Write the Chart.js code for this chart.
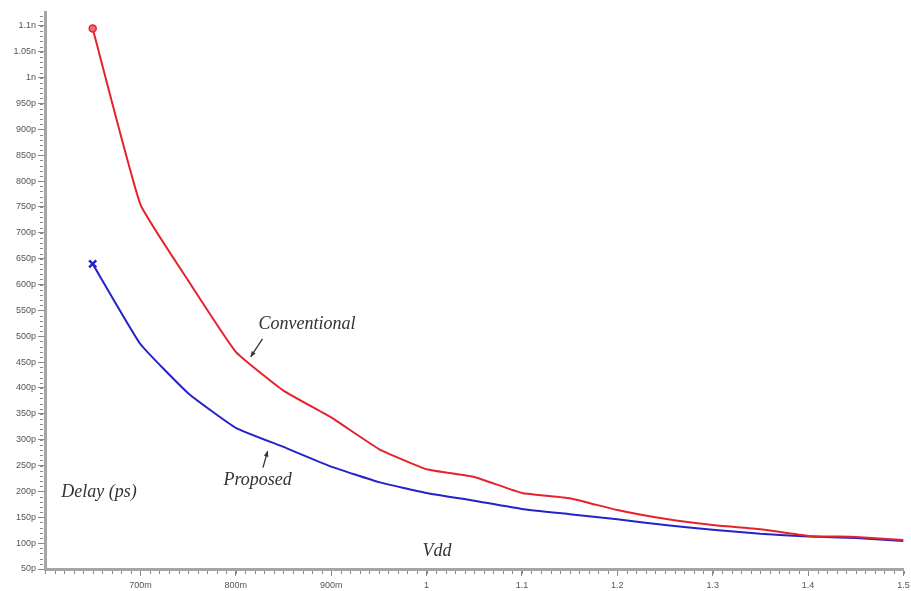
<!DOCTYPE html>
<html>
<head>
<meta charset="utf-8">
<script src="https://cdn.jsdelivr.net/npm/chart.js@4.4.1/dist/chart.umd.min.js"></script>
<style>
  html, body { margin: 0; padding: 0; background: #fff; }
  #wrap { width: 911px; height: 591px; }
</style>
</head>
<body>
<div id="wrap"><canvas id="delayChart" width="911" height="591"></canvas></div>
<script>
// --- datos (Vdd en V, retardo en ps) ---
const vdd = [0.65, 0.7, 0.75, 0.8, 0.85, 0.9, 0.95, 1.0, 1.05, 1.1, 1.15, 1.2, 1.25, 1.3, 1.35, 1.4, 1.45, 1.5];
const conventional = [1095, 755, 608, 470, 395, 343, 282, 243, 228, 197, 187, 164, 147, 135, 127, 114, 112, 106];
const proposed = [640, 485, 390, 323, 286, 248, 218, 197, 182, 166, 156, 146, 135, 126, 118, 113, 110, 104];

const xTicks = [0.7, 0.8, 0.9, 1.0, 1.1, 1.2, 1.3, 1.4, 1.5];
const xTickLabels = ['700m', '800m', '900m', '1', '1.1', '1.2', '1.3', '1.4', '1.5'];
const yTicks = [50, 100, 150, 200, 250, 300, 350, 400, 450, 500, 550, 600, 650, 700, 750, 800, 850, 900, 950, 1000, 1050, 1100];
const yTickLabels = ['50p', '100p', '150p', '200p', '250p', '300p', '350p', '400p', '450p', '500p', '550p', '600p', '650p', '700p', '750p', '800p', '850p', '900p', '950p', '1n', '1.05n', '1.1n'];

const RED = '#e6232b';
const BLUE = '#2323c8';

function toPoints(ys) {
    return vdd.map((x, i) => ({ x: x, y: ys[i] }));
}

// marcas menores de los ejes y textos anotados
const extras = {
    id: 'extras',
    afterDraw(chart) {
        const ctx = chart.ctx;
        const xs = chart.scales.x, ys = chart.scales.y;
        const area = chart.chartArea;
        ctx.save();
        ctx.strokeStyle = '#888';
        ctx.lineWidth = 1;
        // menores eje y cada 10p
        for (let v = 50; v <= 1120; v += 10) {
            const py = Math.round(ys.getPixelForValue(v)) + 0.5;
            ctx.beginPath();
            ctx.moveTo(area.left - 2, py);
            ctx.lineTo(area.left - 5, py);
            ctx.stroke();
        }
        // menores eje x cada 0.01
        for (let k = 60; k <= 150; k++) {
            const px = Math.round(xs.getPixelForValue(k / 100)) + 0.5;
            ctx.beginPath();
            ctx.moveTo(px, area.bottom + 2);
            ctx.lineTo(px, area.bottom + 5);
            ctx.stroke();
        }

        // textos
        ctx.fillStyle = '#333';
        ctx.textAlign = 'center';
        ctx.textBaseline = 'middle';
        ctx.font = 'italic 18px "Liberation Serif", serif';
        ctx.fillText('Conventional', xs.getPixelForValue(0.8747), ys.getPixelForValue(524));
        ctx.fillText('Proposed', xs.getPixelForValue(0.8229), ys.getPixelForValue(222));
        ctx.fillText('Delay (ps)', xs.getPixelForValue(0.6565), ys.getPixelForValue(199));
        ctx.fillText('Vdd', xs.getPixelForValue(1.011), ys.getPixelForValue(85));

        // flechas
        arrow(ctx, xs.getPixelForValue(0.828), ys.getPixelForValue(495), xs.getPixelForValue(0.8156), ys.getPixelForValue(460));
        arrow(ctx, xs.getPixelForValue(0.8285), ys.getPixelForValue(246), xs.getPixelForValue(0.8334), ys.getPixelForValue(278));
        ctx.restore();
    }
};

function arrow(ctx, x1, y1, x2, y2) {
    const a = Math.atan2(y2 - y1, x2 - x1);
    ctx.strokeStyle = '#333';
    ctx.fillStyle = '#333';
    ctx.lineWidth = 1.3;
    ctx.beginPath();
    ctx.moveTo(x1, y1);
    ctx.lineTo(x2, y2);
    ctx.stroke();
    ctx.beginPath();
    ctx.moveTo(x2, y2);
    ctx.lineTo(x2 - 6 * Math.cos(a - 0.4), y2 - 6 * Math.sin(a - 0.4));
    ctx.lineTo(x2 - 6 * Math.cos(a + 0.4), y2 - 6 * Math.sin(a + 0.4));
    ctx.closePath();
    ctx.fill();
}

const tickFont = { family: "'Liberation Sans', Arial, sans-serif", size: 9 };

new Chart(document.getElementById('delayChart').getContext('2d'), {
    type: 'line',
    data: {
        datasets: [
            {
                label: 'Conventional',
                data: toPoints(conventional),
                borderColor: RED,
                backgroundColor: RED,
                borderWidth: 2,
                tension: 0.12,
                pointStyle: 'circle',
                pointRadius: ctx => ctx.dataIndex === 0 ? 3.5 : 0,
                pointBorderColor: RED,
                pointBackgroundColor: '#f06a70',
                pointBorderWidth: 1.5
            },
            {
                label: 'Proposed',
                data: toPoints(proposed),
                borderColor: BLUE,
                backgroundColor: BLUE,
                borderWidth: 2,
                tension: 0.12,
                pointStyle: 'crossRot',
                pointRadius: ctx => ctx.dataIndex === 0 ? 5 : 0,
                pointBorderColor: BLUE,
                pointBorderWidth: 2.5
            }
        ]
    },
    options: {
        responsive: false,
        animation: false,
        layout: { padding: { top: 12, right: 5, left: 0, bottom: 0 } },
        plugins: { legend: { display: false }, tooltip: { enabled: false } },
        scales: {
            x: {
                type: 'linear',
                min: 0.6,
                max: 1.5,
                afterBuildTicks: s => { s.ticks = xTicks.map(v => ({ value: v })); },
                afterFit: s => { s.height = 22; s.paddingRight = 0; s.paddingLeft = 0; },
                ticks: {
                    callback: (v, i) => xTickLabels[i],
                    font: tickFont,
                    color: '#555',
                    padding: 4,
                    maxRotation: 0,
                    autoSkip: false
                },
                grid: { drawOnChartArea: false, drawTicks: true, tickLength: 7, color: '#888' },
                border: { color: '#a5a5a5', width: 3 }
            },
            y: {
                min: 50,
                max: 1127,
                afterBuildTicks: s => { s.ticks = yTicks.map(v => ({ value: v })); },
                afterFit: s => { s.width = 45; },
                ticks: {
                    callback: (v, i) => yTickLabels[i],
                    font: tickFont,
                    color: '#555',
                    padding: 2,
                    autoSkip: false
                },
                grid: { drawOnChartArea: false, drawTicks: true, tickLength: 7, color: '#888' },
                border: { color: '#a5a5a5', width: 3 }
            }
        }
    },
    plugins: [extras]
});
</script>
</body>
</html>
